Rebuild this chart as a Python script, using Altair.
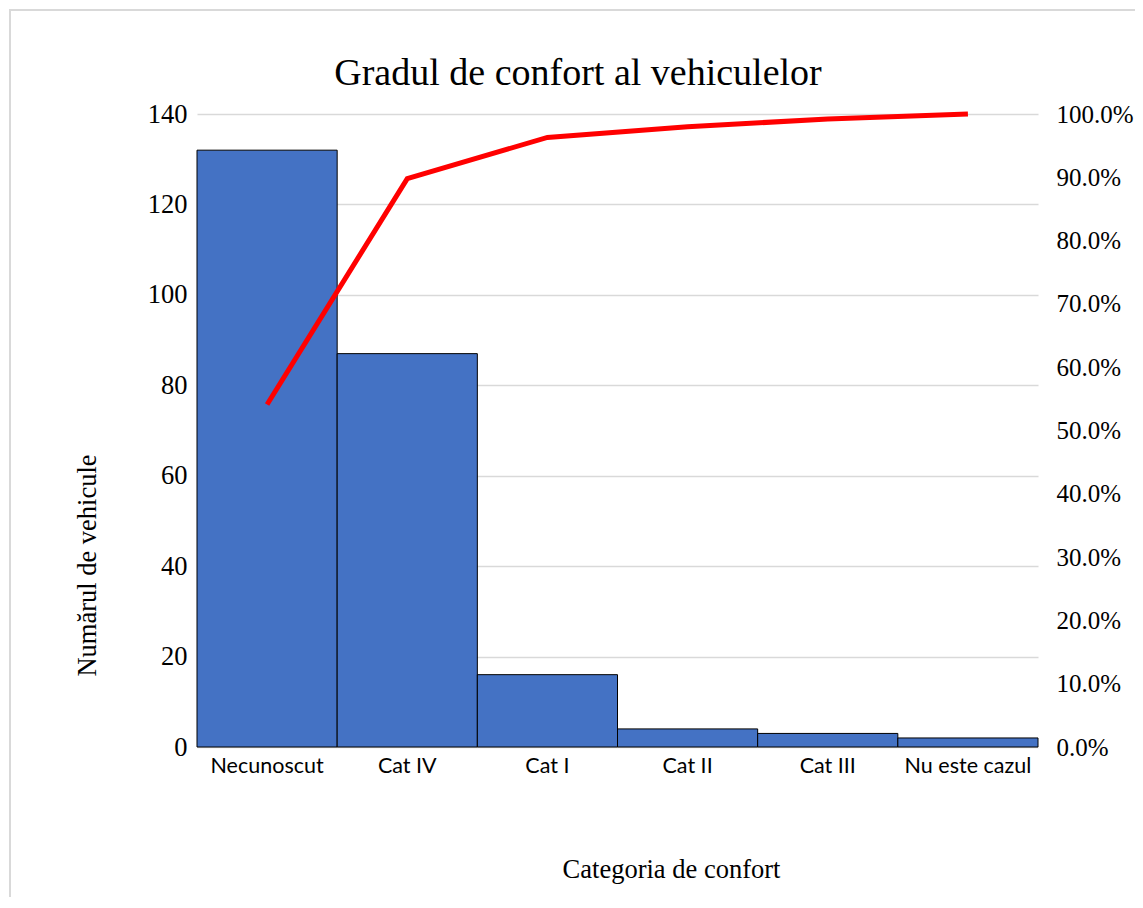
import altair as alt
import pandas as pd

categories = ["Necunoscut", "Cat IV", "Cat I", "Cat II", "Cat III", "Nu este cazul"]
counts = [132, 87, 16, 4, 3, 2]
cumulative_pct = [0.541, 0.898, 0.963, 0.980, 0.992, 1.000]
left_ticks = [0, 20, 40, 60, 80, 100, 120, 140]
right_ticks = [0.0, 0.1, 0.2, 0.3, 0.4, 0.5, 0.6, 0.7, 0.8, 0.9, 1.0]
chart_title = "Gradul de confort al vehiculelor"

df = pd.DataFrame({"cat": categories, "n": counts, "cum": cumulative_pct})

SERIF = "Liberation Serif"
SANS = "Lato"

x_enc = alt.X(
    "cat:N",
    sort=categories,
    scale=alt.Scale(paddingInner=0, paddingOuter=0),
    axis=alt.Axis(
        title="Categoria de confort",
        titleFont=SERIF, titleFontSize=26.5, titleFontWeight="normal", titleColor="black",
        titleX=474, titleY=130, titleAlign="center", titleBaseline="alphabetic",
        labelFont=SANS, labelFontSize=21.5, labelColor="black", labelAngle=0,
        labelPadding=8, ticks=False, domain=False, grid=False,
    ),
)

bars = alt.Chart(df).mark_bar(color="#4472c4", stroke="black", strokeWidth=1).encode(
    x=x_enc,
    y=alt.Y(
        "n:Q",
        scale=alt.Scale(domain=[0, 140], nice=False),
        axis=alt.Axis(
            values=left_ticks,
            title="Numărul de vehicule",
            titleFont=SERIF, titleFontSize=26.5, titleFontWeight="normal", titleColor="black",
            titleX=-110, titleY=451, titleAngle=-90, titleAlign="center", titleBaseline="middle",
            labelFont=SERIF, labelFontSize=26.5, labelColor="black", labelPadding=10,
            ticks=False, domain=False,
            grid=True, gridColor="#d9d9d9", gridWidth=1.5,
        ),
    ),
)

line = alt.Chart(df).mark_line(color="#ff0000", strokeWidth=5).encode(
    x=alt.X("cat:N", sort=categories),
    y=alt.Y(
        "cum:Q",
        scale=alt.Scale(domain=[0, 1], nice=False),
        axis=alt.Axis(
            orient="right", values=right_ticks, format=".1%", title=None,
            labelFont=SERIF, labelFontSize=25, labelColor="black", labelPadding=18,
            ticks=False, domain=False, grid=False,
        ),
    ),
)

frame = alt.Chart(pd.DataFrame({"a": [0]})).mark_rect(
    fillOpacity=0, stroke="#d9d9d9", strokeWidth=2, clip=False
).encode(
    x=alt.value(-187), x2=alt.value(960), y=alt.value(-104), y2=alt.value(820)
)

title_text = alt.Chart(pd.DataFrame({"t": [chart_title]})).mark_text(
    font=SERIF, fontSize=38, color="black", align="center", baseline="alphabetic"
).encode(
    text="t:N", x=alt.value(381), y=alt.value(-29)
)

chart = alt.layer(frame, bars, line, title_text).resolve_scale(y="independent").properties(
    width=841,
    height=633,
    autosize=alt.AutoSizeParams(type="none"),
    padding={"left": 189, "top": 106, "right": 97, "bottom": 150},
).configure_view(stroke=None)

chart.save("out.html", embed_options={"renderer": "svg", "actions": False})
